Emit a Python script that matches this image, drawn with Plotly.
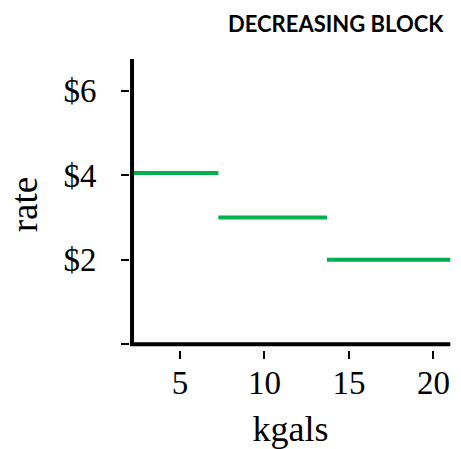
import plotly.graph_objects as go

# Data
block_edges = [2.18, 7.27, 13.7, 21.0]   # kgals boundaries of each block
block_rates = [4.05, 3.0, 2.0]            # $ per kgal
x_tick_vals = [5, 10, 15, 20]
x_tick_text = ["5", "10", "15", "20"]
y_tick_vals = [0, 2, 4, 6]
y_tick_text = ["", "$2", "$4", "$6"]

GREEN = "#00B050"
SERIF = "Liberation Serif"

xs, ys = [], []
for i, r in enumerate(block_rates):
    xs += [block_edges[i], block_edges[i + 1], None]
    ys += [r, r, None]

fig = go.Figure()
fig.add_trace(go.Scatter(x=xs, y=ys, mode="lines",
                         line=dict(color=GREEN, width=4),
                         hoverinfo="skip", showlegend=False))

X_RANGE = [2.04, 21.04]
Y_RANGE = [-0.135, 6.745]

# axis lines (detached from ticks)
fig.add_shape(type="line", xref="x", yref="y", x0=2.16, x1=2.16, y0=-0.04, y1=Y_RANGE[1],
              line=dict(color="black", width=4))
fig.add_shape(type="line", xref="x", yref="y", x0=X_RANGE[0], x1=21.0, y0=0, y1=0,
              line=dict(color="black", width=4))

fig.update_layout(
    width=461, height=449,
    margin=dict(l=130, r=10, t=59, b=99),
    paper_bgcolor="white", plot_bgcolor="white",
    showlegend=False,
    xaxis=dict(range=X_RANGE, tickvals=x_tick_vals, ticktext=x_tick_text,
               ticks="outside", ticklen=8, tickwidth=2, tickcolor="black",
               showgrid=False, zeroline=False, showline=False, automargin=False,
               ticklabelstandoff=-5,
               tickfont=dict(family=SERIF, size=33, color="black"),
               title=dict(text="kgals", font=dict(family=SERIF, size=36, color="black"), standoff=26)),
    yaxis=dict(range=Y_RANGE, tickvals=y_tick_vals, ticktext=y_tick_text,
               ticks="outside", ticklen=8, tickwidth=2, tickcolor="black",
               showgrid=False, zeroline=False, showline=False, automargin=False,
               ticklabelstandoff=18,
               tickfont=dict(family=SERIF, size=33, color="black"),
               title=dict(text="rate", font=dict(family=SERIF, size=37, color="black"), standoff=14)),
    annotations=[dict(text="<b>DECREASING BLOCK</b>", xref="paper", yref="paper",
                      x=0.985, y=1.1237, xanchor="right", yanchor="middle",
                      showarrow=False, font=dict(family="Lato", size=22, color="black"))],
)

fig.write_html("out.html", config={"displayModeBar": False},
               post_script="document.body.style.margin='0';document.body.style.overflow='hidden';")
